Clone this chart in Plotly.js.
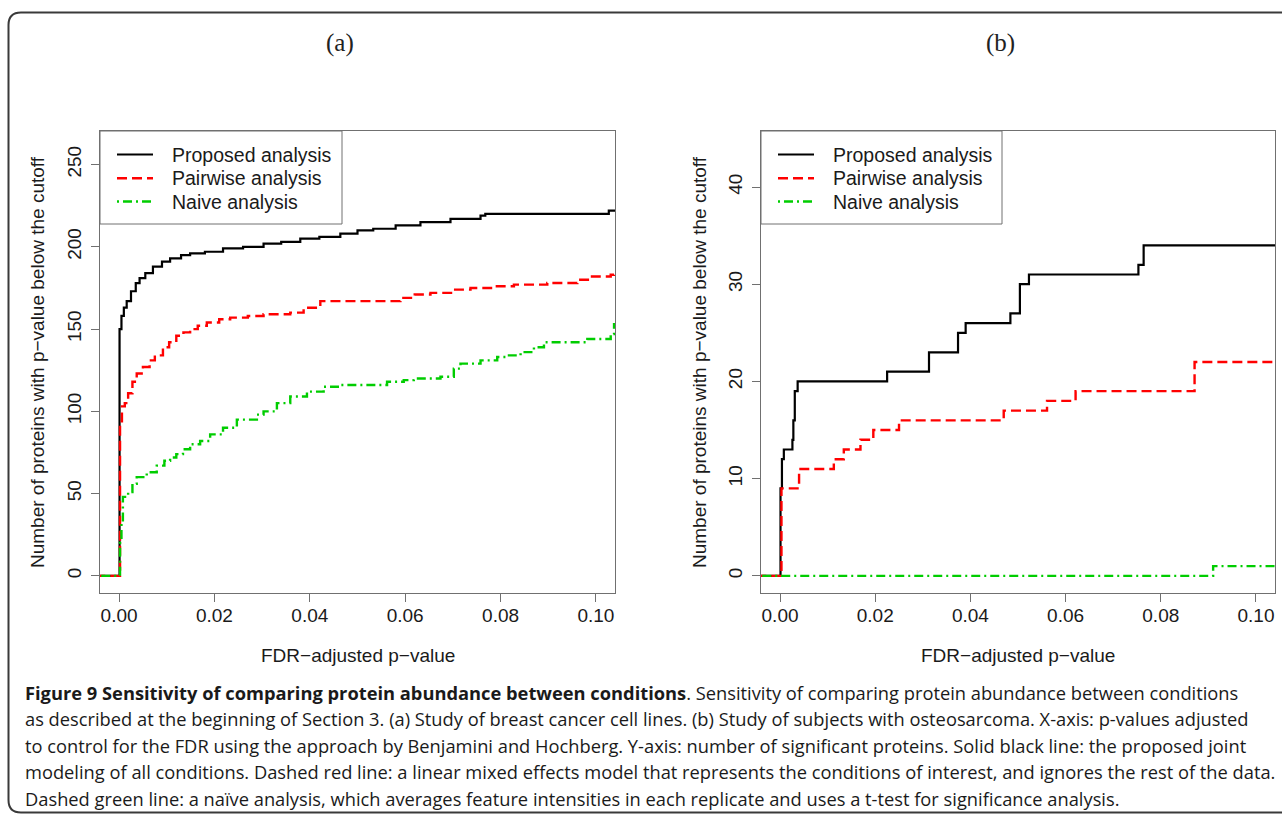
<!DOCTYPE html>
<html>
<head>
<meta charset="utf-8">
<script src="https://cdn.plot.ly/plotly-3.0.1.min.js"></script>
<style>
html,body{margin:0;padding:0;background:#fff;}
#chart{width:1282px;height:814px;}
</style>
</head>
<body>
<div id="chart"></div>
<script>
// ---------- DATA ----------
const seriesNames = ["Proposed analysis", "Pairwise analysis", "Naive analysis"];
const xTicks = [0, 0.02, 0.04, 0.06, 0.08, 0.10];
const xTickLabels = ["0.00", "0.02", "0.04", "0.06", "0.08", "0.10"];
const yTicksA = [0, 50, 100, 150, 200, 250];
const yTicksB = [0, 10, 20, 30, 40];

// Panel (a): breast cancer cell lines
const aProposedX = [-0.005, 0, 0.0001, 0.0005, 0.0010, 0.0016, 0.0025, 0.0035, 0.0043, 0.0055, 0.0071, 0.0090, 0.0107, 0.0130, 0.0149, 0.0180, 0.0218, 0.0260, 0.0303, 0.0340, 0.0380, 0.0420, 0.0464, 0.0500, 0.0533, 0.0580, 0.0632, 0.0695, 0.0758, 0.0768, 0.1027, 0.105];
const aProposedY = [0, 0, 150, 158, 163, 167, 173, 178, 181, 184, 188, 191, 193, 195, 196, 197, 199, 200, 202, 203, 205, 206, 208, 210, 211, 213, 215, 217, 219, 220, 222, 222];

const aPairwiseX = [-0.005, 0.0002, 0.0006, 0.0012, 0.0019, 0.0028, 0.0037, 0.0050, 0.0064, 0.0075, 0.0092, 0.0105, 0.0120, 0.0135, 0.0149, 0.0165, 0.0184, 0.0210, 0.0233, 0.0270, 0.0303, 0.0359, 0.0387, 0.0422, 0.0569, 0.0590, 0.0620, 0.0653, 0.0700, 0.0737, 0.0780, 0.0828, 0.0898, 0.0961, 0.0989, 0.1031, 0.1038, 0.105];
const aPairwiseY = [0, 94, 103, 105, 111, 118, 123, 127, 131, 134, 139, 142, 146, 148, 150, 152, 154, 156, 157, 158, 159, 160, 163, 167, 167, 169, 171, 172, 174, 175, 176, 177, 178, 180, 182, 183, 185, 185];

const aNaiveX = [-0.005, 0.0002, 0.0005, 0.0008, 0.0019, 0.0028, 0.0037, 0.0058, 0.0079, 0.0095, 0.0107, 0.0120, 0.0134, 0.0149, 0.0170, 0.0191, 0.0218, 0.0247, 0.0289, 0.0303, 0.0331, 0.0359, 0.0394, 0.0429, 0.0464, 0.0534, 0.0562, 0.0597, 0.0618, 0.0674, 0.0702, 0.0716, 0.0758, 0.0793, 0.0814, 0.0842, 0.0870, 0.0891, 0.0940, 0.0982, 0.1031, 0.1038, 0.105];
const aNaiveY = [0, 20, 32, 48, 51, 56, 60, 63, 67, 70, 72, 74, 77, 80, 82, 86, 90, 95, 98, 100, 105, 109, 112, 115, 116, 116, 118, 119, 120, 121, 126, 129, 131, 133, 134, 136, 139, 142, 142, 144, 147, 153, 153];

// Panel (b): subjects with osteosarcoma
const bProposedX = [-0.005, 0.0001, 0.0004, 0.0008, 0.0026, 0.0028, 0.0031, 0.0037, 0.0225, 0.0313, 0.0374, 0.0390, 0.0484, 0.0504, 0.0523, 0.0753, 0.0764, 0.105];
const bProposedY = [0, 9, 12, 13, 14, 16, 19, 20, 21, 23, 25, 26, 27, 30, 31, 32, 34, 34];

const bPairwiseX = [-0.005, 0.0003, 0.0040, 0.0113, 0.0134, 0.0169, 0.0196, 0.0250, 0.0470, 0.0561, 0.0621, 0.0871, 0.105];
const bPairwiseY = [0, 9, 11, 12, 13, 14, 15, 16, 17, 18, 19, 22, 22];

const bNaiveX = [-0.005, 0.0910, 0.105];
const bNaiveY = [0, 1, 1];

const panelTitles = ["(a)", "(b)"];
const xTitle = "FDR\u2212adjusted p\u2212value";
const yTitle = "Number of proteins with p\u2212value below the cutoff";
const captionLines = [
  "<b>Figure 9 Sensitivity of comparing protein abundance between conditions</b>. Sensitivity of comparing protein abundance between conditions",
  "as described at the beginning of Section 3. (a) Study of breast cancer cell lines. (b) Study of subjects with osteosarcoma. X-axis: p-values adjusted",
  "to control for the FDR using the approach by Benjamini and Hochberg. Y-axis: number of significant proteins. Solid black line: the proposed joint",
  "modeling of all conditions. Dashed red line: a linear mixed effects model that represents the conditions of interest, and ignores the rest of the data.",
  "Dashed green line: a na\u00efve analysis, which averages feature intensities in each replicate and uses a t-test for significance analysis."
];

// ---------- STYLE ----------
const W = 1282, H = 814;
const px = v => v / W;
const py = v => 1 - v / H;
const colors = ["#000000", "#ff0000", "#00cd00"];
const dashes = ["solid", "10px,5px", "2px,4px,9px,4px"];
const widths = [2.2, 2.4, 2.4];
const sans = "Liberation Sans, Arial, sans-serif";
const axisGray = "#707070";

function tr(x, y, i, xa, ya) {
  return {
    type: "scatter", mode: "lines", x: x, y: y, name: seriesNames[i],
    xaxis: xa, yaxis: ya, showlegend: false, hoverinfo: "skip",
    line: {shape: "hv", color: colors[i], width: widths[i], dash: dashes[i]}
  };
}

const data = [
  tr(aProposedX, aProposedY, 0, "x", "y"),
  tr(aPairwiseX, aPairwiseY, 1, "x", "y"),
  tr(aNaiveX, aNaiveY, 2, "x", "y"),
  tr(bProposedX, bProposedY, 0, "x2", "y2"),
  tr(bPairwiseX, bPairwiseY, 1, "x2", "y2"),
  tr(bNaiveX, bNaiveY, 2, "x2", "y2")
];

function xAxis(dom) {
  return {
    domain: dom, range: [-0.004, 0.104], tickvals: xTicks, ticktext: xTickLabels,
    ticks: "outside", ticklen: 8, tickcolor: axisGray, tickwidth: 1,
    showline: true, mirror: true, linecolor: axisGray, linewidth: 1,
    showgrid: false, zeroline: false, fixedrange: true,
    tickfont: {family: sans, size: 19, color: "#1a1a1a"}, ticklabelstandoff: -3
  };
}
function yAxis(dom, range, ticks, anchor) {
  return {
    domain: dom, range: range, tickvals: ticks, anchor: anchor,
    ticks: "outside", ticklen: 8, tickcolor: axisGray, tickwidth: 1, tickangle: -90,
    showline: true, mirror: true, linecolor: axisGray, linewidth: 1,
    showgrid: false, zeroline: false, fixedrange: true,
    tickfont: {family: sans, size: 19, color: "#1a1a1a"}, ticklabelstandoff: 2
  };
}

const yDom = [py(593), py(131)];
const layout = {
  width: W, height: H, margin: {l: 0, r: 0, t: 0, b: 0},
  paper_bgcolor: "#ffffff", plot_bgcolor: "#ffffff", showlegend: false,
  xaxis: Object.assign(xAxis([px(100), px(615)]), {anchor: "y"}),
  yaxis: yAxis(yDom, [-10.4, 270.4], yTicksA, "x"),
  xaxis2: Object.assign(xAxis([px(761), px(1275)]), {anchor: "y2"}),
  yaxis2: yAxis(yDom, [-1.76, 45.76], yTicksB, "x2"),
  shapes: [], annotations: []
};

// outer rounded frame
layout.shapes.push({
  type: "path", xref: "paper", yref: "paper", layer: "above",
  path: `M ${px(1300)} ${py(12.5)} L ${px(21)} ${py(12.5)} Q ${px(8.5)} ${py(12.5)} ${px(8.5)} ${py(25)} L ${px(8.5)} ${py(800)} Q ${px(8.5)} ${py(812.5)} ${px(21)} ${py(812.5)} L ${px(1300)} ${py(812.5)}`,
  line: {color: "#3a3a3a", width: 2}
});

// legends, titles, axis titles
const panels = [
  {left: 100, right: 615, legRight: 342, titleX: 340, yTitleX: 38},
  {left: 761, right: 1275, legRight: 1002, titleX: 1000, yTitleX: 700}
];
const rowsY = [154.5, 178.3, 201.5];
panels.forEach((p, k) => {
  layout.shapes.push({
    type: "rect", xref: "paper", yref: "paper",
    x0: px(p.left), x1: px(p.legRight), y0: py(224), y1: py(131),
    line: {color: axisGray, width: 1}, fillcolor: "rgba(255,255,255,0)"
  });
  rowsY.forEach((ry, i) => {
    layout.shapes.push({
      type: "line", xref: "paper", yref: "paper",
      x0: px(p.left + 17), x1: px(p.left + 53), y0: py(ry), y1: py(ry),
      line: {color: colors[i], width: widths[i], dash: dashes[i]}
    });
    layout.annotations.push({
      xref: "paper", yref: "paper", x: px(p.left + 70), y: py(ry),
      xanchor: "left", yanchor: "middle", showarrow: false,
      text: seriesNames[i], font: {family: sans, size: 19.5, color: "#1a1a1a"}
    });
  });
  layout.annotations.push({
    xref: "paper", yref: "paper", x: px(p.titleX), y: py(43),
    xanchor: "center", yanchor: "middle", showarrow: false,
    text: panelTitles[k], font: {family: "Liberation Serif, serif", size: 25, color: "#222"}
  });
  layout.annotations.push({
    xref: "paper", yref: "paper", x: px((p.left + p.right) / 2), y: py(655),
    xanchor: "center", yanchor: "middle", showarrow: false,
    text: xTitle, font: {family: sans, size: 19, color: "#1a1a1a"}
  });
  layout.annotations.push({
    xref: "paper", yref: "paper", x: px(p.yTitleX), y: py(362),
    xanchor: "center", yanchor: "middle", showarrow: false, textangle: -90,
    text: yTitle, font: {family: sans, size: 19, color: "#1a1a1a"}
  });
});

// caption
const capY = [692, 718.5, 745, 771.5, 798];
captionLines.forEach((t, i) => {
  layout.annotations.push({
    xref: "paper", yref: "paper", x: px(23), y: py(capY[i]),
    xanchor: "left", yanchor: "middle", showarrow: false,
    text: t, font: {family: "Open Sans, sans-serif", size: 18.3, color: "#1a1a1a"}
  });
});

Plotly.newPlot("chart", data, layout, {staticPlot: true, displayModeBar: false});
</script>
</body>
</html>
